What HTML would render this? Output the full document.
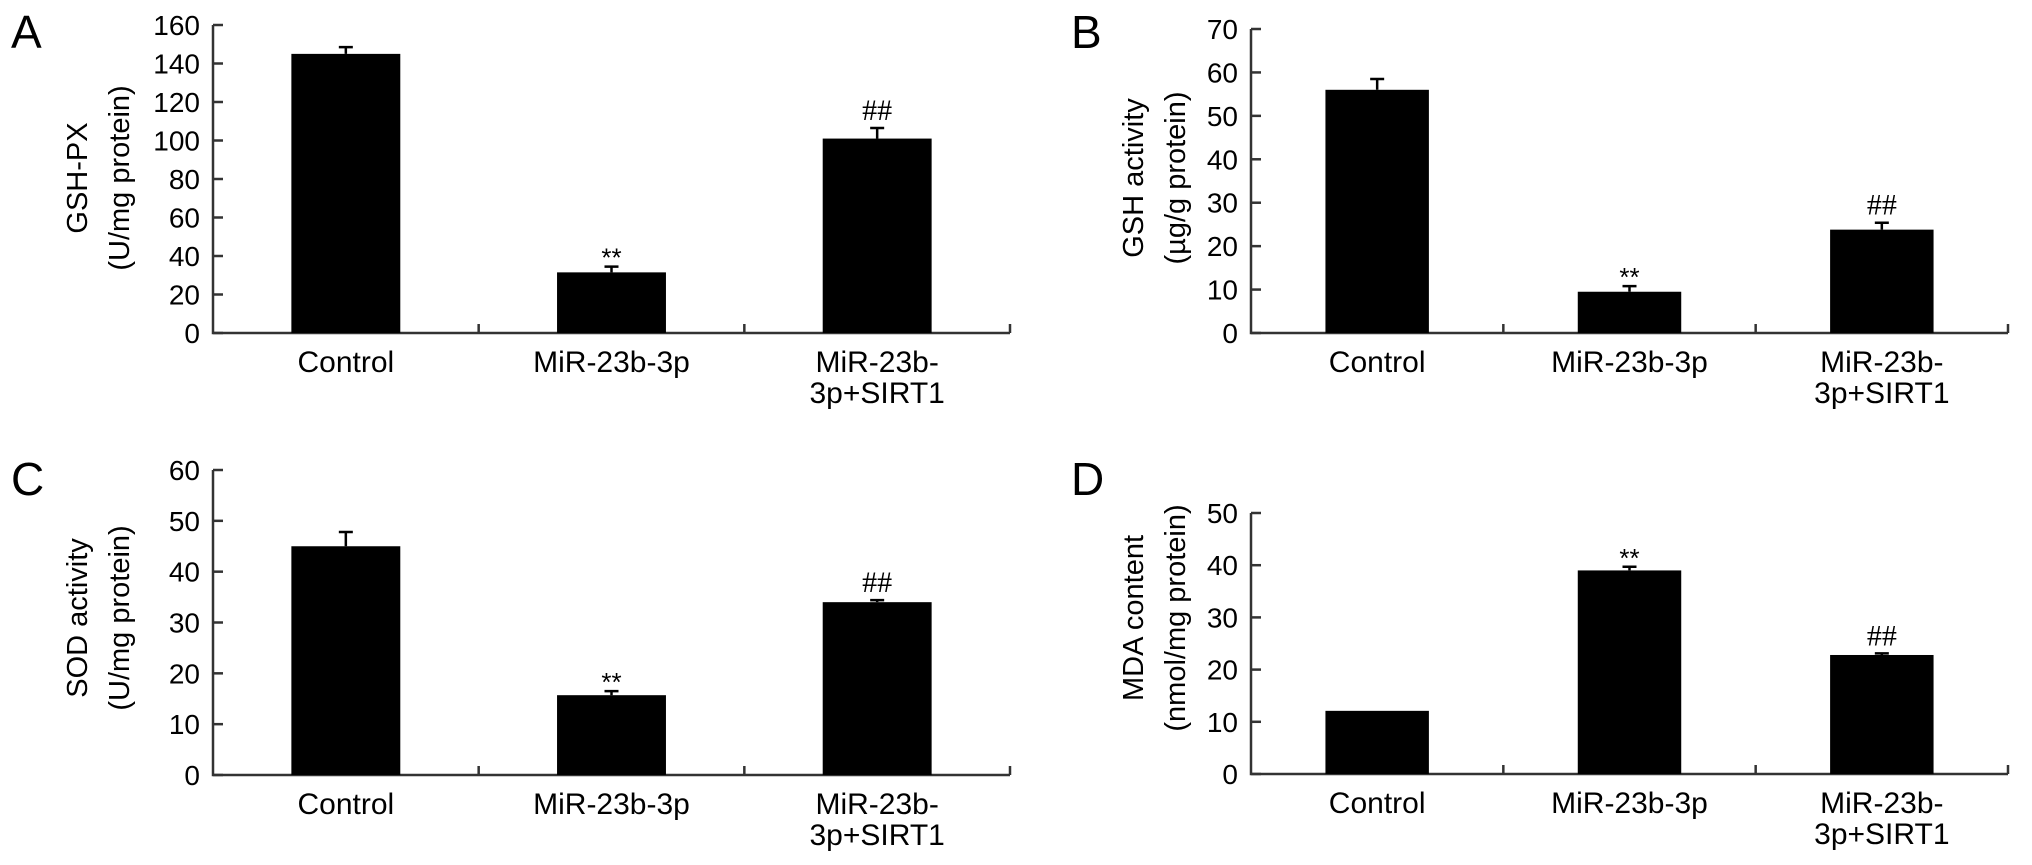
<!DOCTYPE html>
<html><head><meta charset="utf-8"><style>
html,body{margin:0;padding:0;background:#fff;}
svg{display:block;font-family:"Liberation Sans",Arial,sans-serif;}
</style></head><body>
<svg id="fig" width="2032" height="865" viewBox="0 0 2032 865" xmlns="http://www.w3.org/2000/svg"></svg>
<script>
const categories = [["Control"], ["MiR-23b-3p"], ["MiR-23b-", "3p+SIRT1"]];
const valuesA = [145, 31.5, 101];
const errorsA = [3.5, 3, 5.5];
const valuesB = [56, 9.5, 23.8];
const errorsB = [2.5, 1.3, 1.6];
const valuesC = [45, 15.7, 34];
const errorsC = [2.8, 0.8, 0.4];
const valuesD = [12.1, 39, 22.8];
const errorsD = [0, 0.7, 0.3];
const marksA = ["", "**", "##"];
const marksB = ["", "**", "##"];
const marksC = ["", "**", "##"];
const marksD = ["", "**", "##"];
const ticksA = [0, 20, 40, 60, 80, 100, 120, 140, 160];
const ticksB = [0, 10, 20, 30, 40, 50, 60, 70];
const ticksC = [0, 10, 20, 30, 40, 50, 60];
const ticksD = [0, 10, 20, 30, 40, 50];

const NS = "http://www.w3.org/2000/svg";
const svg = document.getElementById("fig");
function mk(tag, attrs, parent) {
  const e = document.createElementNS(NS, tag);
  for (const k in attrs) e.setAttribute(k, attrs[k]);
  (parent || svg).appendChild(e);
  return e;
}

function panel(cfg) {
  const g = mk("g", {});
  
  
  const ymax = cfg.ticks[cfg.ticks.length - 1];
  const y = v => cfg.y0 - (v / ymax) * (cfg.y0 - cfg.yTop);
  const catW = (cfg.xEnd - cfg.x0) / categories.length;
  const barW = catW * 0.41;
  const xc = i => cfg.x0 + catW * (i + 0.5);

  const L = mk("text", {x: cfg.letterX, y: cfg.letterY, "font-size": 46, fill: "#000"}, g);
  L.textContent = cfg.letter;
  
  

  const t1 = mk("text", {x: 0, y: 0, "font-size": 29, "text-anchor": "middle", transform: `translate(${cfg.titleX},${cfg.titleY}) rotate(-90)`}, g);
  t1.textContent = cfg.title1;
  
  
  const t2 = mk("text", {x: 0, y: 0, "font-size": 29, "text-anchor": "middle", transform: `translate(${cfg.titleX + 42},${cfg.titleY}) rotate(-90)`}, g);
  t2.textContent = cfg.title2;
  
  

  const ax = mk("path", {d: `M${cfg.x0},${y(ymax)} V${cfg.y0} H${cfg.xEnd}`, stroke: "#333", "stroke-width": 2.5, fill: "none"}, g);
  
  

  cfg.ticks.forEach(t => {
    const tl = mk("line", {x1: cfg.x0, x2: cfg.x0 + 10, y1: y(t), y2: y(t), stroke: "#333", "stroke-width": 2.5}, g);
    
    
    const tx = mk("text", {x: cfg.x0 - 13, y: y(t) + 10, "font-size": 28, "text-anchor": "end"}, g);
    tx.textContent = t;
    
    
  });
  for (let i = 1; i <= categories.length; i++) {
    const cx = cfg.x0 + catW * i;
    const ct = mk("line", {x1: cx, x2: cx, y1: cfg.y0, y2: cfg.y0 - 9, stroke: "#333", "stroke-width": 2.5}, g);
    
    
  }
  cfg.values.forEach((v, i) => {
    const b = mk("rect", {x: xc(i) - barW / 2, y: y(v), width: barW, height: cfg.y0 - y(v), fill: "#000"}, g);
    
    
    const e = cfg.errors[i];
    if (e > 0) {
      const eb = mk("path", {d: `M${xc(i)},${y(v)} V${y(v + e)} M${xc(i) - 7},${y(v + e)} H${xc(i) + 7}`, stroke: "#000", "stroke-width": 2.5, fill: "none"}, g);
      
      
    }
    if (cfg.marks[i]) {
      const isStar = cfg.marks[i] === "**";
      const m = mk("text", {x: xc(i), y: y(v + e) - (isStar ? 0 : 8), "font-size": isStar ? 26 : 30, "text-anchor": "middle", "font-family": isStar ? "Liberation Sans, sans-serif" : "Liberation Serif, serif"}, g);
      m.textContent = cfg.marks[i];
      
      
    }
    categories[i].forEach((line, j) => {
      const c = mk("text", {x: xc(i), y: cfg.y0 + 39 + j * 31, "font-size": 30, "text-anchor": "middle"}, g);
      c.textContent = line;
      
      
    });
  });
}

panel({letter: "A", letterX: 11, letterY: 48, x0: 213, xEnd: 1010, y0: 333, yTop: 25, ticks: ticksA, values: valuesA, errors: errorsA, marks: marksA, title1: "GSH-PX", title2: "(U/mg protein)", titleX: 87, titleY: 178});
panel({letter: "B", letterX: 1071, letterY: 48, x0: 1251, xEnd: 2008, y0: 333, yTop: 29, ticks: ticksB, values: valuesB, errors: errorsB, marks: marksB, title1: "GSH activity", title2: "(µg/g protein)", titleX: 1143, titleY: 178});
panel({letter: "C", letterX: 11, letterY: 495, x0: 213, xEnd: 1010, y0: 775, yTop: 470, ticks: ticksC, values: valuesC, errors: errorsC, marks: marksC, title1: "SOD activity", title2: "(U/mg protein)", titleX: 87, titleY: 618});
panel({letter: "D", letterX: 1071, letterY: 495, x0: 1251, xEnd: 2008, y0: 774, yTop: 513, ticks: ticksD, values: valuesD, errors: errorsD, marks: marksD, title1: "MDA content", title2: "(nmol/mg protein)", titleX: 1143, titleY: 618});
</script>
</body></html>
